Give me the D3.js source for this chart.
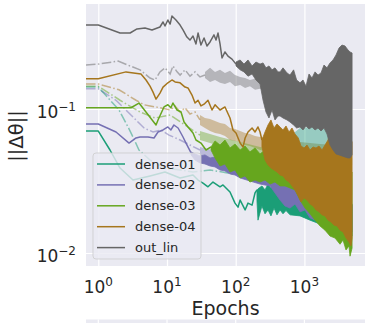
<!DOCTYPE html>
<html>
<head>
<meta charset="utf-8">
<script src="https://cdn.jsdelivr.net/npm/d3@7"></script>
<style>
body { margin: 0; background: #fff; }
svg { display: block; font-family: "DejaVu Sans", sans-serif; }
</style>
</head>
<body>
<div class="container"></div>
<script>
// names + Dark2 colours used for the layers
const seriesNames = ["dense-01", "dense-02", "dense-03", "dense-04", "out_lin"];
const seriesColors = ["#1b9e77", "#7570b3", "#66a61e", "#a6761d", "#666666"];

const xTicks = [1, 10, 100, 1000];
const xTickLabels = [["10", "0"], ["10", "1"], ["10", "2"], ["10", "3"]];
const yTicks = [0.1, 0.01];
const yTickLabels = [["10", "\u22121"], ["10", "\u22122"]];

// solid curves: [epoch, ||dtheta||], then the noisy tail as [epoch, low, high]
const dense01 = [[0.66,0.0703],[1,0.0703],[1.48,0.0519],[2.07,0.0389],[3.2,0.0321],[5.66,0.0343],[9.35,0.0365],[15.5,0.0332],[23.9,0.0348],[28.3,0.0321],[33.4,0.0306],[39.5,0.0288],[46.7,0.0311],[59.1,0.0288],[65.3,0.0297],[82.6,0.0265],[97.7,0.0222],[108,0.0208],[116,0.0233],[137,0.0199],[151,0.0222],[173,0.0215],[191,0.0261],[204,0.0274]];
const dense01Band = [[204,0.0229,0.0274],[211,0.0169,0.0279],[241,0.0212,0.0292],[267,0.0187,0.0274],[295,0.0199,0.0301],[326,0.0181,0.0283],[361,0.0205,0.0297],[399,0.0184,0.0279],[442,0.0199,0.0292],[488,0.0187,0.027],[540,0.0197,0.0288],[617,0.0184,0.027],[863,0.0181,0.0261],[1208,0.0169,0.0249],[1687,0.0159,0.0241],[2360,0.0149,0.0233],[3300,0.014,0.0226],[4940,0.0131,0.0219]];

const dense02 = [[0.66,0.0787],[1,0.0787],[1.81,0.0692],[2.8,0.058],[3.54,0.0629],[4.05,0.0639],[5.29,0.0639],[6.47,0.0629],[7.4,0.0692],[8.75,0.0715],[10.3,0.075],[11.4,0.0715],[12.6,0.0774],[14.5,0.0738],[17.1,0.0639],[18.9,0.058],[22.4,0.0495]];
const dense02Band = [[22.4,0.048,0.0503],[25.6,0.0442,0.0487],[30.2,0.0422,0.0472],[35.7,0.0415,0.048],[42.3,0.0402,0.0457],[50,0.0396,0.0464],[59.1,0.0377,0.0436],[69.8,0.0371,0.0442],[82.6,0.0354,0.0415],[97.7,0.0348,0.0422],[116,0.0332,0.0396],[161,0.0316,0.0377],[226,0.0301,0.0354],[316,0.0292,0.0337],[442,0.0233,0.0316],[522,0.0212,0.0301],[617,0.0205,0.0292],[730,0.0219,0.0283],[863,0.0193,0.0274],[1020,0.0199,0.0261],[1208,0.0175,0.0253],[1687,0.0164,0.0241],[2360,0.0154,0.0233],[3300,0.0144,0.0222],[4940,0.014,0.0215]];

const dense03 = [[0.66,0.102],[2.99,0.102],[3.91,0.11],[6.92,0.0774],[7.4,0.0839],[9.04,0.1033],[10.3,0.107],[11.4,0.102],[12.2,0.11],[14,0.0984],[16,0.0953],[17.7,0.0812],[20.2,0.075],[23.9,0.0681],[26.4,0.0609],[31.2,0.058],[37,0.0519],[43.7,0.0545]];
const dense03Band = [[43.7,0.0519,0.0545],[50,0.0457,0.06],[59.1,0.0402,0.0562],[69.8,0.0415,0.0609],[82.6,0.0365,0.0536],[97.7,0.0377,0.0571],[116,0.0332,0.0519],[137,0.0343,0.0553],[161,0.0311,0.0503],[191,0.0321,0.0536],[226,0.0311,0.0487],[267,0.0321,0.0519],[316,0.0301,0.0472],[373,0.0311,0.0503],[442,0.0292,0.0464],[522,0.0292,0.0495],[617,0.0283,0.0457],[730,0.0274,0.048],[863,0.0233,0.0442],[1020,0.0205,0.0464],[1208,0.0187,0.0429],[1427,0.0169,0.0457],[1687,0.0154,0.0422],[1995,0.0144,0.0442],[2360,0.0131,0.0408],[2790,0.0127,0.0429],[3300,0.0115,0.0389],[3647,0.0123,0.0415],[4032,0.0105,0.0389],[4459,0.0112,0.0396],[4615,0.0095,0.0377],[4940,0.0108,0.0365]];

const dense04 = [[0.66,0.162],[1,0.162],[2.53,0.181],[4.18,0.175],[4.95,0.159],[5.66,0.144],[6.26,0.131],[6.92,0.117],[7.9,0.129],[8.75,0.142],[10.3,0.152],[11.8,0.159],[13.1,0.154],[15.5,0.152],[18.3,0.142],[20.2,0.14],[23.1,0.125],[25.6,0.11],[28.3,0.115],[31.2,0.105],[34.6,0.108],[39.5,0.115],[45.2,0.0984],[50,0.107],[59.1,0.0984],[69.8,0.1033],[82.6,0.0866],[91.3,0.0715],[101,0.0681],[116,0.058],[128,0.0545],[137,0.0629],[151,0.0692],[173,0.0738],[191,0.0692],[211,0.075],[226,0.0692],[241,0.0609]];
const dense04Band = [[241,0.0545,0.0609],[267,0.0442,0.0692],[295,0.0408,0.0774],[326,0.0389,0.0839],[361,0.0377,0.0738],[399,0.0365,0.0787],[442,0.0348,0.075],[488,0.0343,0.0715],[540,0.0321,0.0762],[597,0.0311,0.0692],[660,0.0292,0.0738],[730,0.0274,0.067],[815,0.0249,0.0629],[892,0.0226,0.0553],[987,0.0241,0.0536],[1091,0.0233,0.0562],[1208,0.0219,0.0519],[1334,0.0212,0.0545],[1475,0.0199,0.0536],[1631,0.0193,0.0553],[1804,0.0184,0.0519],[1995,0.0181,0.0562],[2206,0.0169,0.0609],[2439,0.0164,0.0738],[2697,0.0156,0.059],[2983,0.0154,0.0629],[3300,0.0144,0.0659],[3647,0.014,0.0692],[4032,0.0127,0.075],[4459,0.0119,0.0649],[4768,0.0112,0.0609],[4940,0.0127,0.059]];

const outLin = [[0.66,0.383],[1,0.383],[2.07,0.337],[2.9,0.337],[3.66,0.36],[4.78,0.365],[6.05,0.354],[7.9,0.371],[8.75,0.402],[9.35,0.377],[10.3,0.415],[11.1,0.389],[11.8,0.442],[13.5,0.415],[15.5,0.383],[17.1,0.354],[19.5,0.316],[21.6,0.301],[23.9,0.321],[26.4,0.283],[28.3,0.337],[31.2,0.278],[34.6,0.311],[38.2,0.274],[42.3,0.292],[48.3,0.327],[51.7,0.301],[55.3,0.337],[59.1,0.283],[63.2,0.226],[69.8,0.249],[77.2,0.233],[88.3,0.222],[101,0.205]];
const outLinBand = [[101,0.199,0.212],[116,0.187,0.219],[132,0.181,0.205],[151,0.169,0.219],[173,0.175,0.199],[197,0.159,0.212],[226,0.149,0.205],[250,0.115,0.209],[276,0.0953,0.193],[305,0.0866,0.199],[338,0.0984,0.187],[373,0.0839,0.193],[413,0.0894,0.181],[442,0.0894,0.181],[488,0.0866,0.193],[558,0.0839,0.178],[617,0.0812,0.172],[696,0.0774,0.187],[770,0.0738,0.159],[863,0.075,0.152],[954,0.0715,0.159],[1055,0.0762,0.144],[1167,0.0726,0.175],[1290,0.075,0.164],[1427,0.0715,0.181],[1578,0.0738,0.172],[1744,0.0703,0.178],[1928,0.0738,0.202],[2133,0.067,0.193],[2360,0.0562,0.209],[2608,0.0519,0.219],[2884,0.0487,0.237],[3189,0.048,0.265],[3525,0.0472,0.278],[3900,0.0464,0.274],[4306,0.0457,0.257],[4615,0.0457,0.249],[4940,0.048,0.245]];

// faint dash-dot companions of each layer
const dense01Alt = [[0.66,0.142],[1,0.142],[2,0.0984],[2.71,0.075],[3.2,0.0639],[3.91,0.0519],[5.66,0.0442],[9.35,0.0389],[15.5,0.0377],[23.9,0.0365],[42.3,0.0377],[91.3,0.0354],[137,0.0365],[161,0.0365]];
const dense01AltBand = [[161,0.0343,0.0396],[316,0.0348,0.0442],[442,0.0402,0.0519],[617,0.0442,0.059],[730,0.0457,0.0692],[863,0.0472,0.0738],[1208,0.0487,0.075],[1687,0.0495,0.0738],[2360,0.0503,0.0715],[3300,0.0519,0.0715],[4940,0.0519,0.0692]];
const dense02Alt = [[0.66,0.138],[1,0.138],[1.81,0.115],[3.2,0.088],[4.63,0.0738],[6.26,0.0692],[8.18,0.0715],[10.7,0.0659],[15.5,0.0609],[21.6,0.0562],[30.2,0.0519]];
const dense02AltBand = [[30.2,0.048,0.0545],[59.1,0.0436,0.0503],[116,0.0402,0.0464],[226,0.0371,0.0436],[442,0.0332,0.0402],[863,0.0301,0.0377],[4940,0.0253,0.0332]];
const dense03Alt = [[0.66,0.144],[1,0.144],[2.07,0.115],[4.05,0.0953],[6.69,0.0866],[11.1,0.0908],[18.3,0.0774],[30.2,0.0659]];
const dense03AltBand = [[30.2,0.0609,0.0703],[59.1,0.0553,0.0639],[116,0.0503,0.059],[226,0.0457,0.0545],[442,0.0415,0.0519],[863,0.0389,0.0487],[4940,0.0343,0.0457]];
const dense04Alt = [[0.66,0.149],[1,0.149],[2,0.136],[3.54,0.115],[4.63,0.107],[5.66,0.105],[7.9,0.102],[11.1,0.0984],[13.1,0.105],[15.5,0.0953],[18.3,0.102],[21.6,0.0923],[25.6,0.0953],[30.2,0.0839]];
const dense04AltBand = [[30.2,0.0774,0.0908],[35.7,0.0738,0.0866],[42.3,0.0703,0.0852],[50,0.0681,0.0825],[59.1,0.067,0.08],[69.8,0.0649,0.0787],[82.6,0.0609,0.0738],[97.7,0.06,0.0726],[116,0.059,0.0703],[137,0.0562,0.0681],[161,0.0553,0.067],[191,0.0536,0.0649],[226,0.0519,0.0639],[316,0.0503,0.0629],[442,0.0487,0.0609],[617,0.0472,0.059],[863,0.0457,0.059],[1687,0.0442,0.0571],[4940,0.0408,0.0553]];
const outLinAlt = [[0.66,0.202],[1,0.205],[1.94,0.215],[2.9,0.199],[4.05,0.187],[5.66,0.164],[6.69,0.159],[7.9,0.181],[9.35,0.193],[11.1,0.175],[12.2,0.199],[14,0.181],[15.5,0.172],[18.3,0.187],[21.6,0.169],[25.6,0.181],[30.2,0.167],[35.7,0.172]];
const outLinAltBand = [[35.7,0.164,0.181],[42.3,0.154,0.193],[50,0.159,0.181],[59.1,0.152,0.187],[69.8,0.149,0.178],[82.6,0.154,0.184],[97.7,0.144,0.172],[116,0.147,0.167],[137,0.14,0.164],[161,0.144,0.159],[191,0.136,0.162],[226,0.138,0.154],[316,0.127,0.154],[442,0.123,0.149],[617,0.115,0.144],[1687,0.108,0.14],[4940,0.102,0.136]];

const svgwidth = 372, svgheight = 323;
const margin = {top: 4, right: 7, bottom: 57, left: 86};
const width = svgwidth - margin.left - margin.right;
const height = svgheight - margin.top - margin.bottom;
const textColor = "#262626";

const svg = d3.select(".container").append("svg")
    .attr("width", svgwidth)
    .attr("height", svgheight);

const g = svg.append("g")
    .attr("transform", "translate(" + margin.left + "," + margin.top + ")");

const x = d3.scaleLog().domain([0.662, 7620]).range([0, width]);
const y = d3.scaleLog().domain([0.00812, 0.536]).range([height, 0]);

g.append("rect").attr("width", width).attr("height", height).attr("fill", "#eaeaf2");

// white grid
const gx = g.append("g")
    .attr("transform", "translate(0," + height + ")")
    .call(d3.axisBottom(x).tickValues(xTicks).tickSize(-height).tickFormat(""));
const gy = g.append("g")
    .call(d3.axisLeft(y).tickValues(yTicks).tickSize(-width).tickFormat(""));
[gx, gy].forEach(a => {
  a.select(".domain").remove();
  a.selectAll("line").attr("stroke", "#fff").attr("stroke-width", 1.2);
});

g.append("clipPath").attr("id", "plotclip")
  .append("rect").attr("width", width).attr("height", height);
const plot = g.append("g").attr("clip-path", "url(#plotclip)");

const line = d3.line().x(d => x(d[0])).y(d => y(d[1]));
const band = d3.area().x(d => x(d[0])).y0(d => y(d[1])).y1(d => y(d[2]));

function drawSolid(pts, bandPts, color) {
  plot.append("path").datum(bandPts).attr("d", band)
      .attr("fill", color).attr("stroke", color).attr("stroke-width", 0.8);
  plot.append("path").datum(pts).attr("d", line)
      .attr("fill", "none").attr("stroke", color)
      .attr("stroke-width", 1.5).attr("stroke-linejoin", "round");
}
function drawAlt(pts, bandPts, color) {
  plot.append("path").datum(bandPts).attr("d", band)
      .attr("fill", color).attr("fill-opacity", 0.4);
  plot.append("path").datum(pts).attr("d", line)
      .attr("fill", "none").attr("stroke", color).attr("stroke-opacity", 0.5)
      .attr("stroke-width", 1.5).attr("stroke-dasharray", "9.6,2.4,1.5,2.4");
}

// faint runs underneath, then the main runs
drawAlt(outLinAlt, outLinAltBand, seriesColors[4]);
drawAlt(dense04Alt, dense04AltBand, seriesColors[3]);
drawAlt(dense03Alt, dense03AltBand, seriesColors[2]);
drawAlt(dense02Alt, dense02AltBand, seriesColors[1]);
drawAlt(dense01Alt, dense01AltBand, seriesColors[0]);
drawSolid(dense01, dense01Band, seriesColors[0]);
drawSolid(dense02, dense02Band, seriesColors[1]);
drawSolid(dense03, dense03Band, seriesColors[2]);
drawSolid(dense04, dense04Band, seriesColors[3]);
drawSolid(outLin, outLinBand, seriesColors[4]);

// tick labels with superscripts
const xl = g.selectAll(".xlabel").data(xTicks).enter().append("text")
    .attr("class", "xlabel")
    .attr("x", d => x(d)).attr("y", height + 27)
    .attr("text-anchor", "middle").attr("fill", textColor).attr("font-size", 17);
xl.append("tspan").text((d, i) => xTickLabels[i][0]);
xl.append("tspan").attr("dy", -7).attr("font-size", 12).text((d, i) => xTickLabels[i][1]);

const yl = g.selectAll(".ylabel").data(yTicks).enter().append("text")
    .attr("class", "ylabel")
    .attr("x", -10).attr("y", d => y(d) + 9)
    .attr("text-anchor", "end").attr("fill", textColor).attr("font-size", 17);
yl.append("tspan").text((d, i) => yTickLabels[i][0]);
yl.append("tspan").attr("dy", -7).attr("font-size", 12).text((d, i) => yTickLabels[i][1]);

g.append("text")
    .attr("x", width / 2).attr("y", height + 49)
    .attr("text-anchor", "middle").attr("fill", textColor).attr("font-size", 19)
    .text("Epochs");

svg.append("text")
    .attr("transform", "translate(23," + (margin.top + height / 2 + 1) + ") rotate(-90)")
    .attr("text-anchor", "middle").attr("fill", textColor).attr("font-size", 19.5)
    .text("||\u0394\u03b8||");

// legend
const legend = g.append("g").attr("transform", "translate(7,149)");
legend.append("rect")
    .attr("width", 108).attr("height", 106).attr("rx", 3)
    .attr("fill", "#eaeaf2").attr("fill-opacity", 0.8)
    .attr("stroke", "#cccccc").attr("stroke-opacity", 0.8);
const entry = legend.selectAll(".entry").data(seriesNames).enter().append("g")
    .attr("class", "entry")
    .attr("transform", (d, i) => "translate(0," + (11 + i * 20.9) + ")");
entry.append("line")
    .attr("x1", 4).attr("x2", 32)
    .attr("stroke", (d, i) => seriesColors[i]).attr("stroke-width", 1.5);
entry.append("text")
    .attr("x", 42).attr("y", 4.5)
    .attr("fill", textColor).attr("font-size", 13)
    .text(d => d);

// top edge of the next panel below
const strip = svg.append("g").attr("transform", "translate(" + margin.left + ",319.5)");
strip.append("rect").attr("width", width).attr("height", 4).attr("fill", "#eaeaf2");
strip.selectAll("line").data(xTicks).enter().append("line")
    .attr("x1", d => x(d)).attr("x2", d => x(d))
    .attr("y1", 0).attr("y2", 4)
    .attr("stroke", "#fff").attr("stroke-width", 1.2);
</script>
</body>
</html>
